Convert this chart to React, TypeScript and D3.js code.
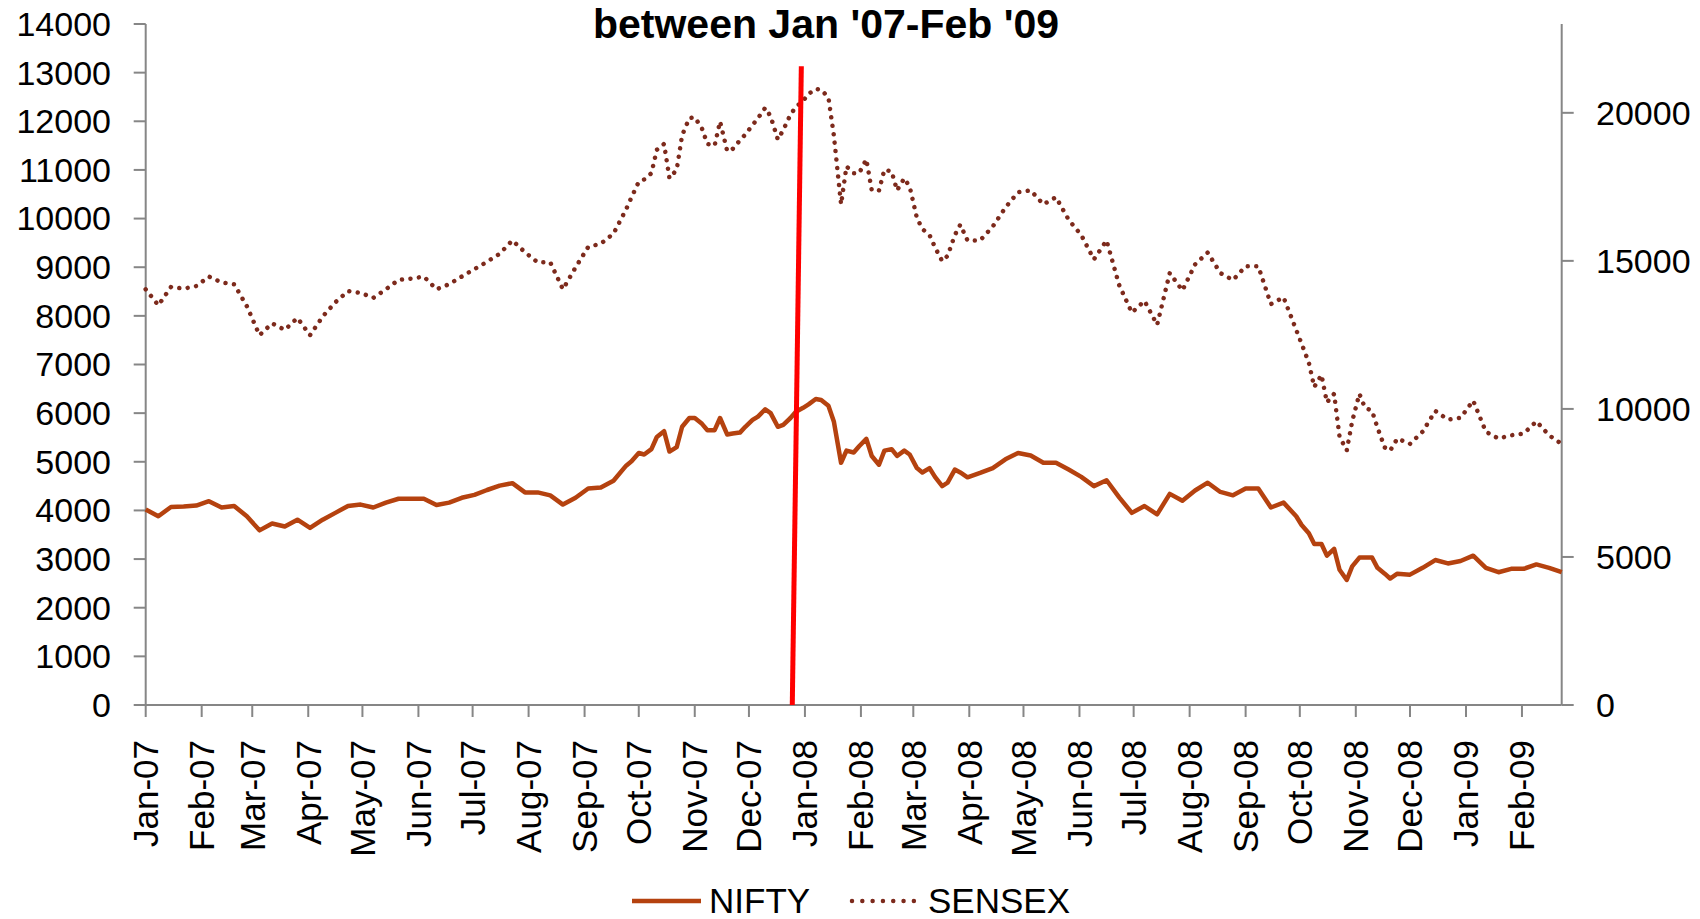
import React from 'react';
import * as d3 from 'd3';

const dates = [
  "2007-01-01","2007-01-08","2007-01-15","2007-01-22","2007-01-29",
  "2007-02-05","2007-02-12","2007-02-19","2007-02-26",
  "2007-03-05","2007-03-12","2007-03-19","2007-03-26",
  "2007-04-02","2007-04-09","2007-04-16","2007-04-23","2007-04-30",
  "2007-05-07","2007-05-14","2007-05-21","2007-05-28",
  "2007-06-04","2007-06-11","2007-06-18","2007-06-25",
  "2007-07-02","2007-07-09","2007-07-16","2007-07-23","2007-07-30",
  "2007-08-06","2007-08-13","2007-08-20","2007-08-27",
  "2007-09-03","2007-09-10","2007-09-17","2007-09-24","2007-09-27",
  "2007-10-01","2007-10-04","2007-10-08","2007-10-11","2007-10-15","2007-10-18",
  "2007-10-22","2007-10-25","2007-10-29","2007-11-01",
  "2007-11-05","2007-11-08","2007-11-12","2007-11-15","2007-11-19","2007-11-22",
  "2007-11-26","2007-11-29",
  "2007-12-03","2007-12-06","2007-12-10","2007-12-13","2007-12-17","2007-12-20",
  "2007-12-24","2007-12-27","2007-12-31",
  "2008-01-03","2008-01-07","2008-01-10","2008-01-14","2008-01-17","2008-01-21","2008-01-24",
  "2008-01-28","2008-01-31",
  "2008-02-04","2008-02-07","2008-02-11","2008-02-14","2008-02-18","2008-02-21",
  "2008-02-25","2008-02-28",
  "2008-03-03","2008-03-06","2008-03-10","2008-03-13","2008-03-17","2008-03-20",
  "2008-03-24","2008-03-27","2008-03-31",
  "2008-04-07","2008-04-14","2008-04-21","2008-04-28",
  "2008-05-05","2008-05-12","2008-05-19","2008-05-26",
  "2008-06-02","2008-06-09","2008-06-16","2008-06-23","2008-06-30",
  "2008-07-07","2008-07-14","2008-07-21","2008-07-28",
  "2008-08-04","2008-08-11","2008-08-18","2008-08-25",
  "2008-09-01","2008-09-08","2008-09-15","2008-09-22","2008-09-29",
  "2008-10-02","2008-10-06","2008-10-09","2008-10-13","2008-10-16","2008-10-20","2008-10-23",
  "2008-10-27","2008-10-30",
  "2008-11-03","2008-11-06","2008-11-10","2008-11-13","2008-11-17","2008-11-20","2008-11-24",
  "2008-12-01","2008-12-08","2008-12-15","2008-12-22","2008-12-29",
  "2009-01-05","2009-01-12","2009-01-19","2009-01-26",
  "2009-02-02","2009-02-09","2009-02-16","2009-02-23"
];

const nifty = [
  4020,3880,4070,4080,4100,
  4190,4060,4090,3880,
  3590,3730,3670,3810,
  3640,3810,3950,4090,4120,
  4060,4160,4240,4240,
  4240,4110,4160,4260,
  4320,4420,4510,4560,4370,
  4370,4310,4120,4260,
  4450,4470,4610,4920,5010,
  5180,5150,5260,5510,5630,5210,
  5300,5720,5900,5900,
  5780,5650,5650,5900,5560,5580,
  5600,5720,
  5860,5930,6080,6000,5720,5760,
  5900,6030,6110,
  6180,6290,6270,6150,5830,4980,5230,
  5190,5320,
  5470,5120,4940,5230,5260,5120,
  5230,5150,
  4870,4780,4870,4690,4500,4570,
  4840,4780,4680,
  4770,4870,5050,5180,
  5130,4980,4980,4840,
  4690,4500,4620,4270,3950,
  4090,3920,4340,4200,
  4410,4570,4380,4310,
  4450,4450,4060,4160,3880,
  3700,3530,3310,3310,3070,3210,2780,
  2570,2850,
  3030,3030,3030,2820,2700,2600,2700,
  2680,2820,2980,2910,2960,
  3070,2820,2730,2800,
  2800,2890,2820,2730
];

const sensex = [
  14040,13500,14120,14060,14150,
  14470,14270,14210,13470,
  12490,12890,12670,13070,
  12490,13120,13600,13980,13920,
  13750,14040,14360,14400,
  14470,14040,14210,14470,
  14720,14970,15240,15690,15290,
  14950,14950,14040,14780,
  15470,15580,15920,16740,17150,
  17670,17750,17960,18750,18950,17790,
  18080,19240,19820,19850,
  19470,18950,18890,19710,18700,18780,
  19070,19270,
  19590,19820,20170,19880,19100,19420,
  19940,20200,20400,
  20640,20810,20780,20520,19240,16910,18190,
  17960,17960,
  18430,17380,17380,18080,18020,17380,
  17790,17500,
  16450,16080,15870,15460,14990,15170,
  15870,16220,15690,
  15690,16160,16800,17320,
  17380,16910,17150,16390,
  15870,15050,15690,14180,13250,
  13650,12840,14590,14000,
  14880,15280,14590,14350,
  14820,14820,13540,13770,12670,
  12200,11560,10740,11150,10220,10510,9060,
  8600,9580,
  10510,10050,9930,9370,8700,8590,9000,
  8820,9230,9930,9640,9700,
  10280,9230,9000,9110,
  9170,9580,9110,8820
];

const leftTicks = [0,1000,2000,3000,4000,5000,6000,7000,8000,9000,10000,11000,12000,13000,14000];
const rightTicks = [0,5000,10000,15000,20000];
const titleText = "between Jan '07-Feb '09";
const seriesNames = ["NIFTY","SENSEX"];
const markerDates = ["2007-12-30","2007-12-25"];
const markerValues = [13130,0];

const FONT = "'Liberation Sans', Arial, Helvetica, sans-serif";
const AXIS = "#868686";
const NIFTY_COLOR = "#B5420F";
const SENSEX_COLOR = "#7D2A1C";

export default function App() {
  const W = 1700, H = 919;
  const parse = d3.timeParse("%Y-%m-%d");
  const start = parse("2007-01-01") as Date;
  const end = parse("2009-02-23") as Date;
  const x = d3.scaleTime().domain([start, end]).range([145.7, 1561.7]);
  const yL = d3.scaleLinear().domain([0, 14000]).range([705, 24]);
  const yR = d3.scaleLinear().domain([0, 23000]).range([705, 24]);

  const parsed = dates.map(d => parse(d) as Date);
  const niftyLine = d3.line<number>()
    .x((_, i) => x(parsed[i]))
    .y(v => yL(v))(nifty) || "";
  const sensexLine = d3.line<number>()
    .x((_, i) => x(parsed[i]))
    .y(v => yR(v))(sensex) || "";

  const months = d3.timeMonth.range(start, d3.timeDay.offset(end, 1));
  const fmt = d3.timeFormat("%b-%y");

  const [x0, x1] = x.range();
  const y0 = yL(0);
  const yTop = yL(14000);

  const mk = markerDates.map((d, i) => [x(parse(d) as Date), yL(markerValues[i])]);

  return (
    <svg width={W} height={H} style={{ position: 'absolute', left: 0, top: 0, background: '#fff' }} fontFamily={FONT}>
      <rect x={0} y={0} width={W} height={H} fill="#fff" />
      <text x={826} y={38} textAnchor="middle" fontWeight="bold" fontSize={41} fill="#000">{titleText}</text>

      {/* left axis */}
      <line x1={x0} x2={x0} y1={yTop} y2={y0} stroke={AXIS} strokeWidth={2} />
      {leftTicks.map(t => (
        <g key={'l' + t}>
          <line x1={x0 - 12} x2={x0} y1={yL(t)} y2={yL(t)} stroke={AXIS} strokeWidth={2} />
          <text x={111} y={yL(t)} dy="0.35em" textAnchor="end" fontSize={34} fill="#000">{t}</text>
        </g>
      ))}

      {/* right axis */}
      <line x1={x1} x2={x1} y1={yTop} y2={y0} stroke={AXIS} strokeWidth={2} />
      {rightTicks.map(t => (
        <g key={'r' + t}>
          <line x1={x1} x2={x1 + 12} y1={yR(t)} y2={yR(t)} stroke={AXIS} strokeWidth={2} />
          <text x={1596} y={yR(t)} dy="0.35em" textAnchor="start" fontSize={34} fill="#000">{t}</text>
        </g>
      ))}

      {/* bottom axis */}
      <line x1={x0} x2={x1} y1={y0} y2={y0} stroke={AXIS} strokeWidth={2} />
      {months.map(m => (
        <g key={m.toISOString()}>
          <line x1={x(m)} x2={x(m)} y1={y0} y2={y0 + 12} stroke={AXIS} strokeWidth={2} />
          <text transform={`translate(${x(m)},740) rotate(-90)`} dy="0.35em" textAnchor="end" fontSize={35} fill="#000">{fmt(m)}</text>
        </g>
      ))}

      {/* series */}
      <path d={sensexLine} fill="none" stroke={SENSEX_COLOR} strokeWidth={4.5} strokeLinecap="round" strokeLinejoin="round" strokeDasharray="0.01 8.5" />
      <path d={niftyLine} fill="none" stroke={NIFTY_COLOR} strokeWidth={4.5} strokeLinejoin="round" />

      {/* red marker */}
      <line x1={mk[0][0]} y1={mk[0][1]} x2={mk[1][0]} y2={mk[1][1]} stroke="#FF0000" strokeWidth={5} />

      {/* legend */}
      <line x1={632} x2={701} y1={901} y2={901} stroke={NIFTY_COLOR} strokeWidth={4.5} />
      <text x={709} y={913} fontSize={35} fill="#000">{seriesNames[0]}</text>
      <line x1={852} x2={914} y1={901} y2={901} stroke={SENSEX_COLOR} strokeWidth={4.5} strokeLinecap="round" strokeDasharray="0.01 10.3" />
      <text x={928} y={913} fontSize={35} fill="#000">{seriesNames[1]}</text>
    </svg>
  );
}
